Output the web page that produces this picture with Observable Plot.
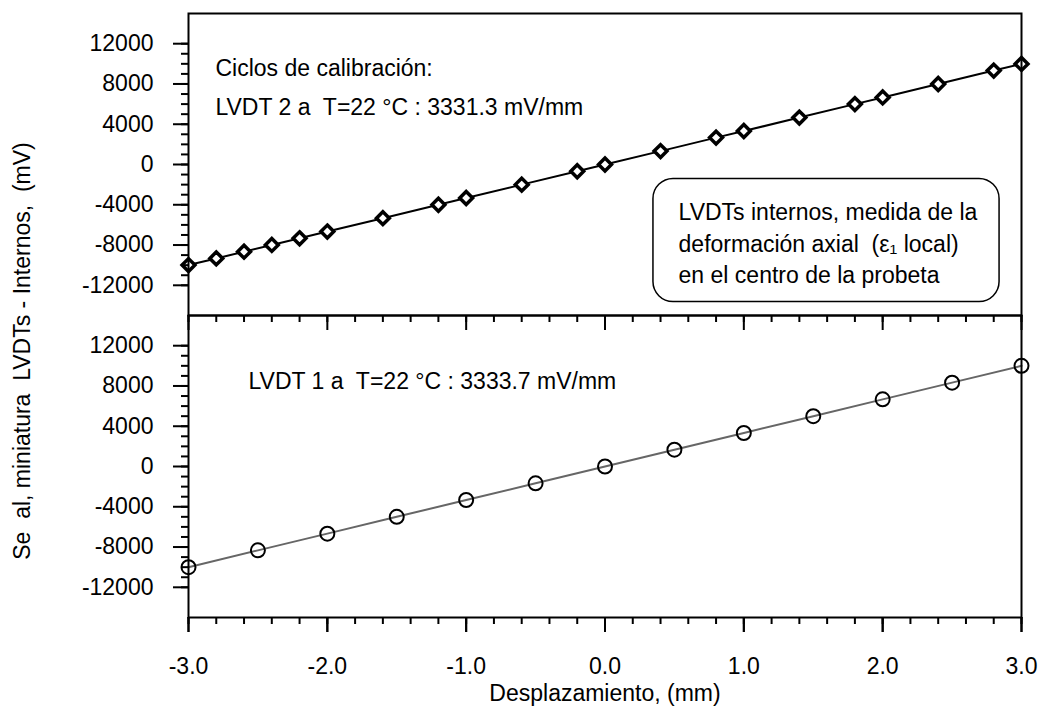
<!DOCTYPE html>
<html>
<head>
<meta charset="utf-8">
<script src="https://cdn.jsdelivr.net/npm/d3@7"></script>
<script src="https://cdn.jsdelivr.net/npm/@observablehq/plot@0.6"></script>
<style>
  html, body { margin: 0; padding: 0; background: white; }
  #wrap { position: relative; width: 1040px; height: 706px; font-family: "Liberation Sans", Arial, sans-serif; }
  #ylabel { position: absolute; left: 22px; top: 351px; transform: translate(-50%, -50%) rotate(-90deg);
            font-size: 23px; white-space: pre; color: black; line-height: 1; }
  svg text { white-space: pre; }
  svg g[aria-label="frame"], svg g[aria-label="frame"] rect { stroke-width: 2px; }
  svg g[aria-label$="axis tick"], svg g[aria-label$="axis tick"] path { stroke-width: 2px; }
</style>
</head>
<body>
<div id="wrap">
  <div id="ylabel">Se  al, miniatura  LVDTs - Internos,  (mV)</div>
</div>
<script>
// Top panel: LVDT 2 calibration (diamonds)
const xTop = [-3.0, -2.8, -2.6, -2.4, -2.2, -2.0, -1.6, -1.2, -1.0, -0.6, -0.2, 0.0, 0.4, 0.8, 1.0, 1.4, 1.8, 2.0, 2.4, 2.8, 3.0];
const yTop = [-9990, -9330, -8660, -7990, -7330, -6660, -5330, -4000, -3330, -2000, -670, 0, 1330, 2670, 3330, 4660, 6000, 6660, 8000, 9330, 9990];
// Bottom panel: LVDT 1 calibration (circles)
const xBottom = [-3.0, -2.5, -2.0, -1.5, -1.0, -0.5, 0.0, 0.5, 1.0, 1.5, 2.0, 2.5, 3.0];
const yBottom = [-10000, -8330, -6670, -5000, -3330, -1670, 0, 1670, 3330, 5000, 6670, 8330, 10000];
// Ticks
const yMajorTicks = [-12000, -8000, -4000, 0, 4000, 8000, 12000];
const yMinorTicks = d3.range(-12000, 12001, 1000);
const xMajorTicks = [-3, -2, -1, 0, 1, 2, 3];
const xMinorTicks = d3.range(-30, 31, 2).map(d => d / 10);
// Texts
const panels = ["top", "bottom"];
const topTitle = "Ciclos de calibración:";
const topNote = "LVDT 2 a  T=22 °C : 3331.3 mV/mm";
const bottomNote = "LVDT 1 a  T=22 °C : 3333.7 mV/mm";
const boxText = "LVDTs internos, medida de la\ndeformación axial  (ε₁ local)\nen el centro de la probeta";
const xLabel = "Desplazamiento, (mm)";

const topData = xTop.map((x, i) => ({x, y: yTop[i], panel: "top"}));
const bottomData = xBottom.map((x, i) => ({x, y: yBottom[i], panel: "bottom"}));
const topOne = [{panel: "top"}];
const bottomOne = [{panel: "bottom"}];

const font = "Liberation Sans, Arial, sans-serif";

const chart = Plot.plot({
  width: 1040,
  height: 706,
  marginTop: 12,
  marginBottom: 89,
  marginLeft: 188,
  marginRight: 19,
  style: {fontFamily: font, fontSize: "23px", background: "white", color: "black", overflow: "visible"},
  x: {domain: [-3, 3]},
  y: {domain: [-15000, 15000]},
  fy: {domain: panels, padding: 0, axis: null, label: null},
  marks: [
    Plot.rect(topOne, {x1: 0.349, x2: 2.842, y1: -1433, y2: -13662, fy: "panel", rx: 20, ry: 20, stroke: "black", strokeWidth: 1.5, fill: "white"}),
    Plot.line(topData, {x: "x", y: "y", fy: "panel", stroke: "black", strokeWidth: 2}),
    Plot.dot(topData, {x: "x", y: "y", fy: "panel", symbol: "diamond2", r: 5.8, stroke: "black", strokeWidth: 3.5, fill: "white"}),
    Plot.line(bottomData, {x: "x", y: "y", fy: "panel", stroke: "#666", strokeWidth: 2}),
    Plot.dot(bottomData, {x: "x", y: "y", fy: "panel", r: 7, stroke: "black", strokeWidth: 2, fill: "none"}),
    Plot.text(topOne, {x: -2.806, y: 9497, fy: "panel", text: () => topTitle, textAnchor: "start", fontSize: 23, fill: "black"}),
    Plot.text(topOne, {x: -2.806, y: 5678, fy: "panel", text: () => topNote, textAnchor: "start", fontSize: 23, fill: "black"}),
    Plot.text(topOne, {x: 0.53, y: -7662, fy: "panel", text: () => boxText, textAnchor: "start", lineHeight: 1.37, fontSize: 23, fill: "black"}),
    Plot.text(bottomOne, {x: -2.568, y: 8406, fy: "panel", text: () => bottomNote, textAnchor: "start", fontSize: 23, fill: "black"}),
    Plot.axisY(yMinorTicks, {tickSize: 7, text: null, label: null, strokeWidth: 2, facetAnchor: null}),
    Plot.axisY(yMajorTicks, {tickSize: 15, tickPadding: 20, tickFormat: d => String(d), label: null, strokeWidth: 2, fontSize: 23, facetAnchor: null}),
    Plot.axisX(xMinorTicks, {tickSize: 7, text: null, label: null, strokeWidth: 2, facetAnchor: null}),
    Plot.axisX(xMajorTicks, {tickSize: 15, text: null, label: null, strokeWidth: 2, facetAnchor: null}),
    Plot.axisX(xMajorTicks, {tickSize: 15, tickPadding: 25, tickFormat: d => d.toFixed(1), label: xLabel, labelAnchor: "center", labelOffset: 83, labelArrow: "none", strokeWidth: 2, fontSize: 23}),
    Plot.frame({stroke: "black", strokeWidth: 2})
  ]
});
document.getElementById("wrap").prepend(chart);
</script>
</body>
</html>
